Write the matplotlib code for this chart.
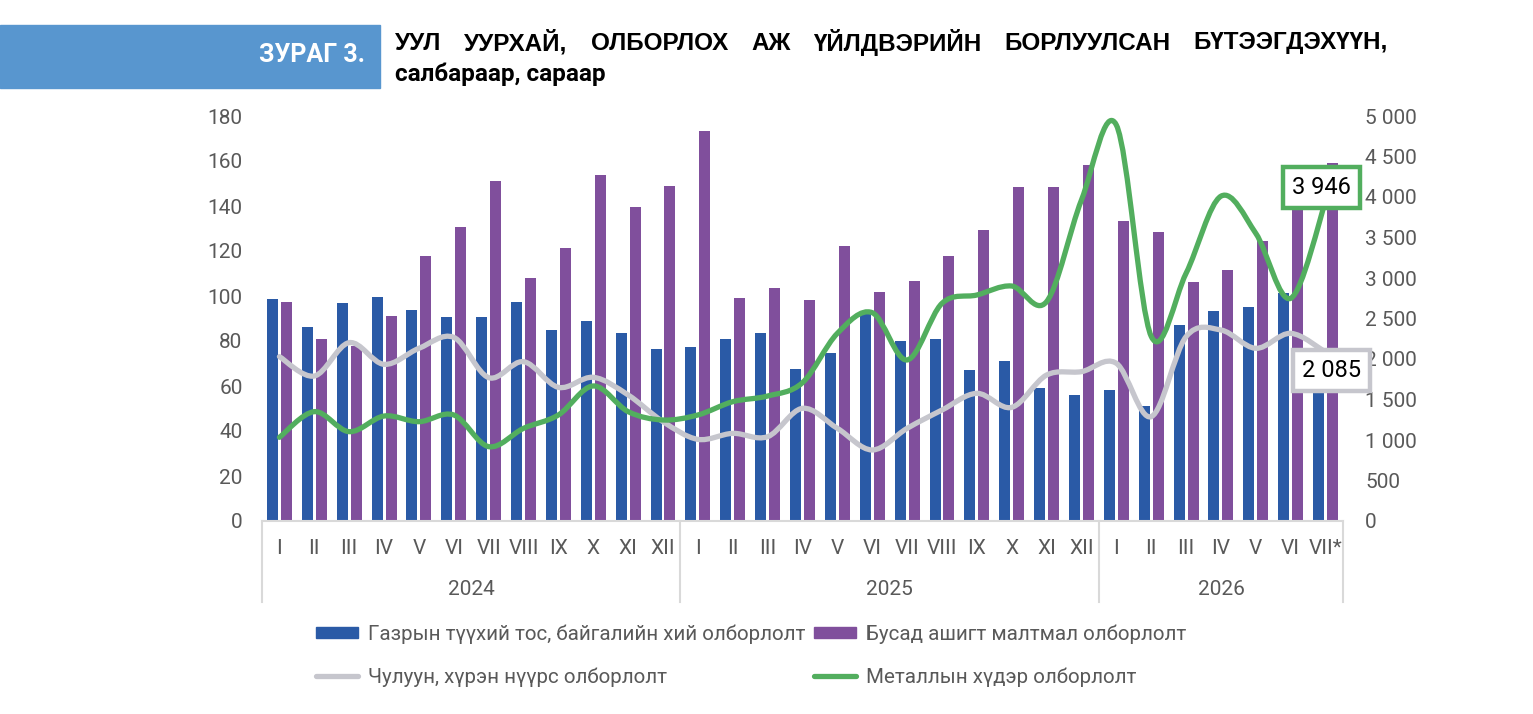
import numpy as np
import matplotlib
matplotlib.use("Agg")
import matplotlib.pyplot as plt
from matplotlib.path import Path
from matplotlib.patches import PathPatch, Rectangle
from matplotlib.lines import Line2D
from matplotlib.patches import Patch
import matplotlib.transforms as mtransforms

# month labels, 2024-2026
months = ["I", "II", "III", "IV", "V", "VI", "VII", "VIII", "IX", "X", "XI", "XII"] * 2 + \
         ["I", "II", "III", "IV", "V", "VI", "VII*"]
years = ["2024", "2025", "2026"]
year_len = [12, 12, 7]

# left axis (bars)
oil_gas = [98.8, 86.1, 96.9, 99.6, 93.9, 90.5, 90.7, 97.5, 85.0, 88.7, 83.4, 76.6,
           77.2, 80.9, 83.6, 67.6, 74.7, 93.5, 79.9, 81.0, 67.1, 71.3, 59.1, 56.1,
           58.4, 51.2, 87.3, 93.2, 95.3, 101.5, 68.0]
other_min = [97.2, 81.0, 78.0, 91.1, 117.8, 130.7, 151.3, 108.1, 121.2, 153.9, 139.4, 148.7,
             173.5, 99.0, 103.7, 98.2, 122.4, 101.9, 106.7, 117.6, 129.3, 148.3, 148.3, 158.4,
             133.3, 128.4, 106.4, 111.4, 124.4, 148.0, 159.3]

# right axis (lines)
coal = [2029, 1790, 2202, 1934, 2132, 2267, 1770, 1967, 1650, 1774, 1556, 1226,
        1008, 1082, 1041, 1391, 1144, 877, 1144, 1370, 1576, 1403, 1802, 1844,
        1947, 1288, 2276, 2358, 2132, 2317, 2085]
metal = [1033, 1350, 1103, 1296, 1226, 1309, 918, 1144, 1309, 1667, 1350, 1247,
         1309, 1473, 1543, 1708, 2317, 2572, 1988, 2687, 2790, 2901, 2708, 3963,
         4889, 2280, 3058, 4010, 3551, 2749, 3946]

legend_labels = ["Газрын түүхий тос, байгалийн хий олборлолт",
                 "Чулуун, хүрэн нүүрс олборлолт",
                 "Бусад ашигт малтмал олборлолт",
                 "Металлын хүдэр олборлолт"]

BLUE = "#2A5AA6"
PURPLE = "#804F9C"
GRAY = "#C6C6CD"
GREEN = "#52AE5E"
TXT = "#595959"
AXC = "#D9D9D9"

plt.rcParams["font.family"] = ["Roboto", "DejaVu Sans"]


def smooth_path(x, y, t=1 / 6):
    # excel-like smoothed line: cubic bezier through every point
    pts = np.column_stack([x, y]).astype(float)
    n = len(pts)
    verts = [pts[0]]
    codes = [Path.MOVETO]
    for i in range(n - 1):
        p0 = pts[max(i - 1, 0)]
        p1 = pts[i]
        p2 = pts[i + 1]
        p3 = pts[min(i + 2, n - 1)]
        verts += [p1 + (p2 - p0) * t, p2 - (p3 - p1) * t, p2]
        codes += [Path.CURVE4] * 3
    return Path(verts, codes)


W, H = 1533, 714
fig = plt.figure(figsize=(W / 100, H / 100), dpi=100)
ax = fig.add_axes([262 / W, 1 - 521 / H, (1343 - 262) / W, 405 / H])
ax2 = ax.twinx()

x = np.arange(len(months))
bw = 0.315
ax.bar(x - 0.2, oil_gas, bw, color=BLUE, zorder=2)
ax.bar(x + 0.2, other_min, bw, color=PURPLE, zorder=2)

ax.set_xlim(-0.5, len(months) - 0.5)
ax.set_ylim(0, 180)
ax.set_yticks(range(0, 181, 20))
ax2.set_ylim(0, 5000)
ax2.set_yticks(range(0, 5001, 500))
ax2.set_yticklabels([f"{v:,}".replace(",", " ") for v in range(0, 5001, 500)])

for a in (ax, ax2):
    for s in ["top", "left", "right", "bottom"]:
        a.spines[s].set_visible(False)
    a.tick_params(length=0, labelsize=15, labelcolor=TXT)
ax.tick_params(axis="y", pad=14)
ax2.tick_params(axis="y", pad=16)
ax.set_xticks([])

ax2.add_patch(PathPatch(smooth_path(x, coal), fill=False, ec=GRAY, lw=3.8,
                        capstyle="round", joinstyle="round", zorder=3))
ax2.add_patch(PathPatch(smooth_path(x, metal), fill=False, ec=GREEN, lw=3.8,
                        capstyle="round", joinstyle="round", zorder=4))

# category axis (months + years)
tr = mtransforms.blended_transform_factory(ax.transData, ax.transAxes)
ax.plot([-0.5, len(months) - 0.5], [0, 0], color=AXC, lw=1.5, transform=tr, clip_on=False)
for i, m in enumerate(months):
    ax.text(i, -0.067, m, ha="center", va="center", fontsize=15, color=TXT, transform=tr)
start = 0
seps = [-0.5]
for yr, n in zip(years, year_len):
    ax.text(start + (n - 1) / 2, -0.17, yr, ha="center", va="center", fontsize=15,
            color=TXT, transform=tr)
    start += n
    seps.append(start - 0.5)
for s in seps:
    ax.plot([s, s], [0, -0.2], color=AXC, lw=1.5, transform=tr, clip_on=False)

# data labels for last month
ax2.annotate(f"{metal[-1]:,}".replace(",", " "), (x[-1], metal[-1]), xytext=(-4, 14),
             textcoords="offset pixels", ha="center", va="center", fontsize=17,
             color="black", zorder=6,
             bbox=dict(boxstyle="square,pad=0.38", fc="white", ec=GREEN, lw=3.2))
ax2.annotate(f"{coal[-1]:,}".replace(",", " "), (x[-1], coal[-1]), xytext=(6, -18),
             textcoords="offset pixels", ha="center", va="center", fontsize=17,
             color="black", zorder=6,
             bbox=dict(boxstyle="square,pad=0.38", fc="white", ec=GRAY, lw=3.2))

# legend
handles = [Patch(color=BLUE), Line2D([], [], color=GRAY, lw=3.8, solid_capstyle="round"),
           Patch(color=PURPLE), Line2D([], [], color=GREEN, lw=3.8, solid_capstyle="round")]
fig.legend(handles, legend_labels, ncol=2, loc="upper left",
           bbox_to_anchor=(316 / W, 1 - 624 / H), frameon=False, fontsize=14.8,
           labelcolor=TXT, handlelength=2.05, handleheight=0.45, handletextpad=0.5,
           columnspacing=0.4, labelspacing=1.15, borderpad=0, borderaxespad=0)

# title block
fig.patches.append(Rectangle((0, 1 - 88 / H), 380 / W, 63 / H, transform=fig.transFigure,
                             color="#5896CF", zorder=0))
fig.text(365 / W, 1 - 55 / H, "ЗУРАГ 3.", ha="right", va="center", fontsize=18,
         fontweight="bold", color="white")

title1 = "УУЛ УУРХАЙ, ОЛБОРЛОХ АЖ ҮЙЛДВЭРИЙН БОРЛУУЛСАН БҮТЭЭГДЭХҮҮН,"
words = title1.split()
r = fig.canvas.get_renderer()
tw = [fig.text(0, 1 - 43 / H, w, ha="left", va="center", fontsize=17.5, fontweight="bold",
               family=["Liberation Sans", "DejaVu Sans"]) for w in words]
widths = [t.get_window_extent(r).width for t in tw]
gap = (1388 - 395 - sum(widths)) / (len(words) - 1)
pos = 395
for t, w in zip(tw, widths):
    t.set_x(pos / W)
    pos += w + gap
fig.text(395 / W, 1 - 74 / H, "салбараар, сараар", ha="left", va="center", fontsize=17.5,
         fontweight="bold")

fig.savefig("out.png", dpi=100)
